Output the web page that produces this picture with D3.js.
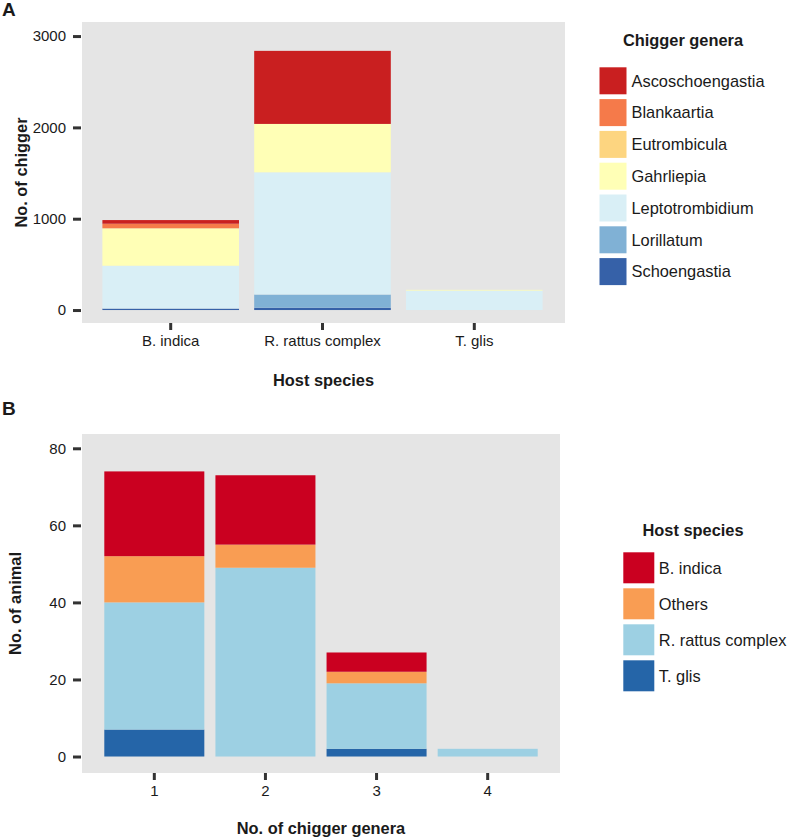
<!DOCTYPE html>
<html>
<head>
<meta charset="utf-8">
<script src="https://cdn.jsdelivr.net/npm/d3@7"></script>
<style>
  html, body { margin: 0; padding: 0; background: #ffffff; }
  svg { display: block; font-family: "Liberation Sans", Arial, sans-serif; }
</style>
</head>
<body>
<svg id="chart" width="787" height="837"></svg>
<script>
// ---------- Panel A data ----------
const hostsA = ["B. indica", "R. rattus complex", "T. glis"];
const genera = ["Ascoschoengastia", "Blankaartia", "Eutrombicula", "Gahrliepia", "Leptotrombidium", "Lorillatum", "Schoengastia"];
const ascoschoengastia = [40, 800, 0];
const blankaartia      = [50, 0, 0];
const eutrombicula     = [0, 0, 0];
const gahrliepia       = [410, 530, 8];
const leptotrombidium  = [469, 1338, 213];
const lorillatum       = [0, 145, 0];
const schoengastia     = [16, 25, 0];
const yTicksA = [0, 1000, 2000, 3000];
const generaColors = ["#c91f20", "#f57a4a", "#fdd580", "#ffffb6", "#d9eff6", "#80b1d5", "#3661a8"];

// ---------- Panel B data ----------
const nGenera = ["1", "2", "3", "4"];
const hostsB = ["B. indica", "Others", "R. rattus complex", "T. glis"];
const bIndica  = [22, 18, 5, 0];
const others   = [12, 6, 3, 0];
const rRattus  = [33, 49, 17, 2];
const tGlis    = [7, 0, 2, 0];
const yTicksB = [0, 20, 40, 60, 80];
const hostColors = ["#ca0020", "#f99d53", "#9dd0e3", "#2565a8"];

const svg = d3.select("#chart");
const textColor = "#1a1a1a";
const tickColor = "#333333";

function drawPanel(cfg) {
  const g = svg.append("g");
  // panel background
  g.append("rect")
    .attr("x", cfg.left).attr("y", cfg.top)
    .attr("width", cfg.right - cfg.left).attr("height", cfg.bottom - cfg.top)
    .attr("fill", "#e5e5e5");

  const x = d3.scaleBand().domain(cfg.cats).range(cfg.bandRange)
    .paddingInner(0.1).paddingOuter(0.05);
  const y = d3.scaleLinear().domain(cfg.yDomain).range([cfg.bottom, cfg.top]);

  // build rows
  const rows = cfg.cats.map((c, i) => {
    const r = { cat: c };
    cfg.keys.forEach((k, j) => { r[k] = cfg.series[j][i]; });
    return r;
  });
  // stack: first legend entry on top
  const stackKeys = cfg.keys.slice().reverse();
  const stacked = d3.stack().keys(stackKeys)(rows);
  const color = d3.scaleOrdinal().domain(cfg.keys).range(cfg.colors);

  stacked.forEach(layer => {
    g.append("g").selectAll("rect")
      .data(layer.filter(d => d[1] - d[0] > 0))
      .join("rect")
      .attr("x", d => x(d.data.cat))
      .attr("width", x.bandwidth())
      .attr("y", d => y(d[1]))
      .attr("height", d => y(d[0]) - y(d[1]))
      .attr("fill", color(layer.key));
  });

  // y axis
  const yAxis = d3.axisLeft(y).tickValues(cfg.yTicks).tickSize(8).tickPadding(7).tickFormat(d3.format("d"));
  const ya = g.append("g").attr("transform", `translate(${cfg.left - 1},0)`).call(yAxis);
  ya.select(".domain").remove();
  ya.selectAll("line").attr("stroke", tickColor).attr("stroke-width", 3);
  ya.selectAll("text").attr("fill", textColor).style("font-size", "15px");

  // x axis
  const xAxis = d3.axisBottom(x).tickSize(7).tickPadding(5);
  const xa = g.append("g").attr("transform", `translate(0,${cfg.bottom})`).call(xAxis);
  xa.select(".domain").remove();
  xa.selectAll("line").attr("stroke", tickColor).attr("stroke-width", 3);
  xa.selectAll("text").attr("fill", textColor).style("font-size", "15px");

  // axis titles
  g.append("text")
    .attr("x", (cfg.left + cfg.right) / 2).attr("y", cfg.xTitleY)
    .attr("text-anchor", "middle").attr("font-weight", "bold")
    .attr("font-size", "16.4px").attr("fill", textColor)
    .text(cfg.xTitle);
  g.append("text")
    .attr("transform", `translate(${cfg.yTitleX},${(cfg.top + cfg.bottom) / 2}) rotate(-90)`)
    .attr("text-anchor", "middle").attr("font-weight", "bold")
    .attr("font-size", "16.4px").attr("fill", textColor)
    .text(cfg.yTitle);

  // panel letter
  g.append("text")
    .attr("x", cfg.letterX).attr("y", cfg.letterY)
    .attr("font-weight", "bold").attr("font-size", "19px").attr("fill", textColor)
    .text(cfg.letter);

  // legend
  const lg = g.append("g");
  lg.append("text")
    .attr("x", cfg.legend.titleX).attr("y", cfg.legend.titleY)
    .attr("text-anchor", "middle").attr("font-weight", "bold")
    .attr("font-size", "16.4px").attr("fill", textColor)
    .text(cfg.legend.title);
  const items = lg.selectAll("g.item").data(cfg.keys).join("g").attr("class", "item")
    .attr("transform", (d, i) => `translate(${cfg.legend.keyX},${cfg.legend.keyY + i * cfg.legend.step})`);
  items.append("rect")
    .attr("width", cfg.legend.keySize).attr("height", cfg.legend.keySize)
    .attr("fill", d => color(d));
  items.append("text")
    .attr("x", cfg.legend.keySize + cfg.legend.textGap)
    .attr("y", cfg.legend.keySize / 2)
    .attr("dy", "0.36em")
    .attr("font-size", "16.4px").attr("fill", textColor)
    .text(d => d);
}

drawPanel({
  letter: "A", letterX: 2, letterY: 16,
  left: 82, right: 565, top: 22, bottom: 323,
  bandRange: [94.8, 550.2],
  yDomain: [-142, 3154],
  cats: hostsA, keys: genera,
  series: [ascoschoengastia, blankaartia, eutrombicula, gahrliepia, leptotrombidium, lorillatum, schoengastia],
  colors: generaColors, yTicks: yTicksA,
  xTitle: "Host species", xTitleY: 386,
  yTitle: "No. of chigger", yTitleX: 27,
  legend: { title: "Chigger genera", titleX: 683, titleY: 46, keyX: 599.5, keyY: 67.3, step: 31.8, keySize: 27, textGap: 5 }
});

drawPanel({
  letter: "B", letterX: 2, letterY: 415,
  left: 82, right: 560, top: 434, bottom: 773,
  bandRange: [98.75, 543.25],
  yDomain: [-4.28, 83.71],
  cats: nGenera, keys: hostsB,
  series: [bIndica, others, rRattus, tGlis],
  colors: hostColors, yTicks: yTicksB,
  xTitle: "No. of chigger genera", xTitleY: 834,
  yTitle: "No. of animal", yTitleX: 21,
  legend: { title: "Host species", titleX: 693, titleY: 536, keyX: 623.3, keyY: 552.3, step: 36, keySize: 31, textGap: 4.5 }
});
</script>
</body>
</html>
